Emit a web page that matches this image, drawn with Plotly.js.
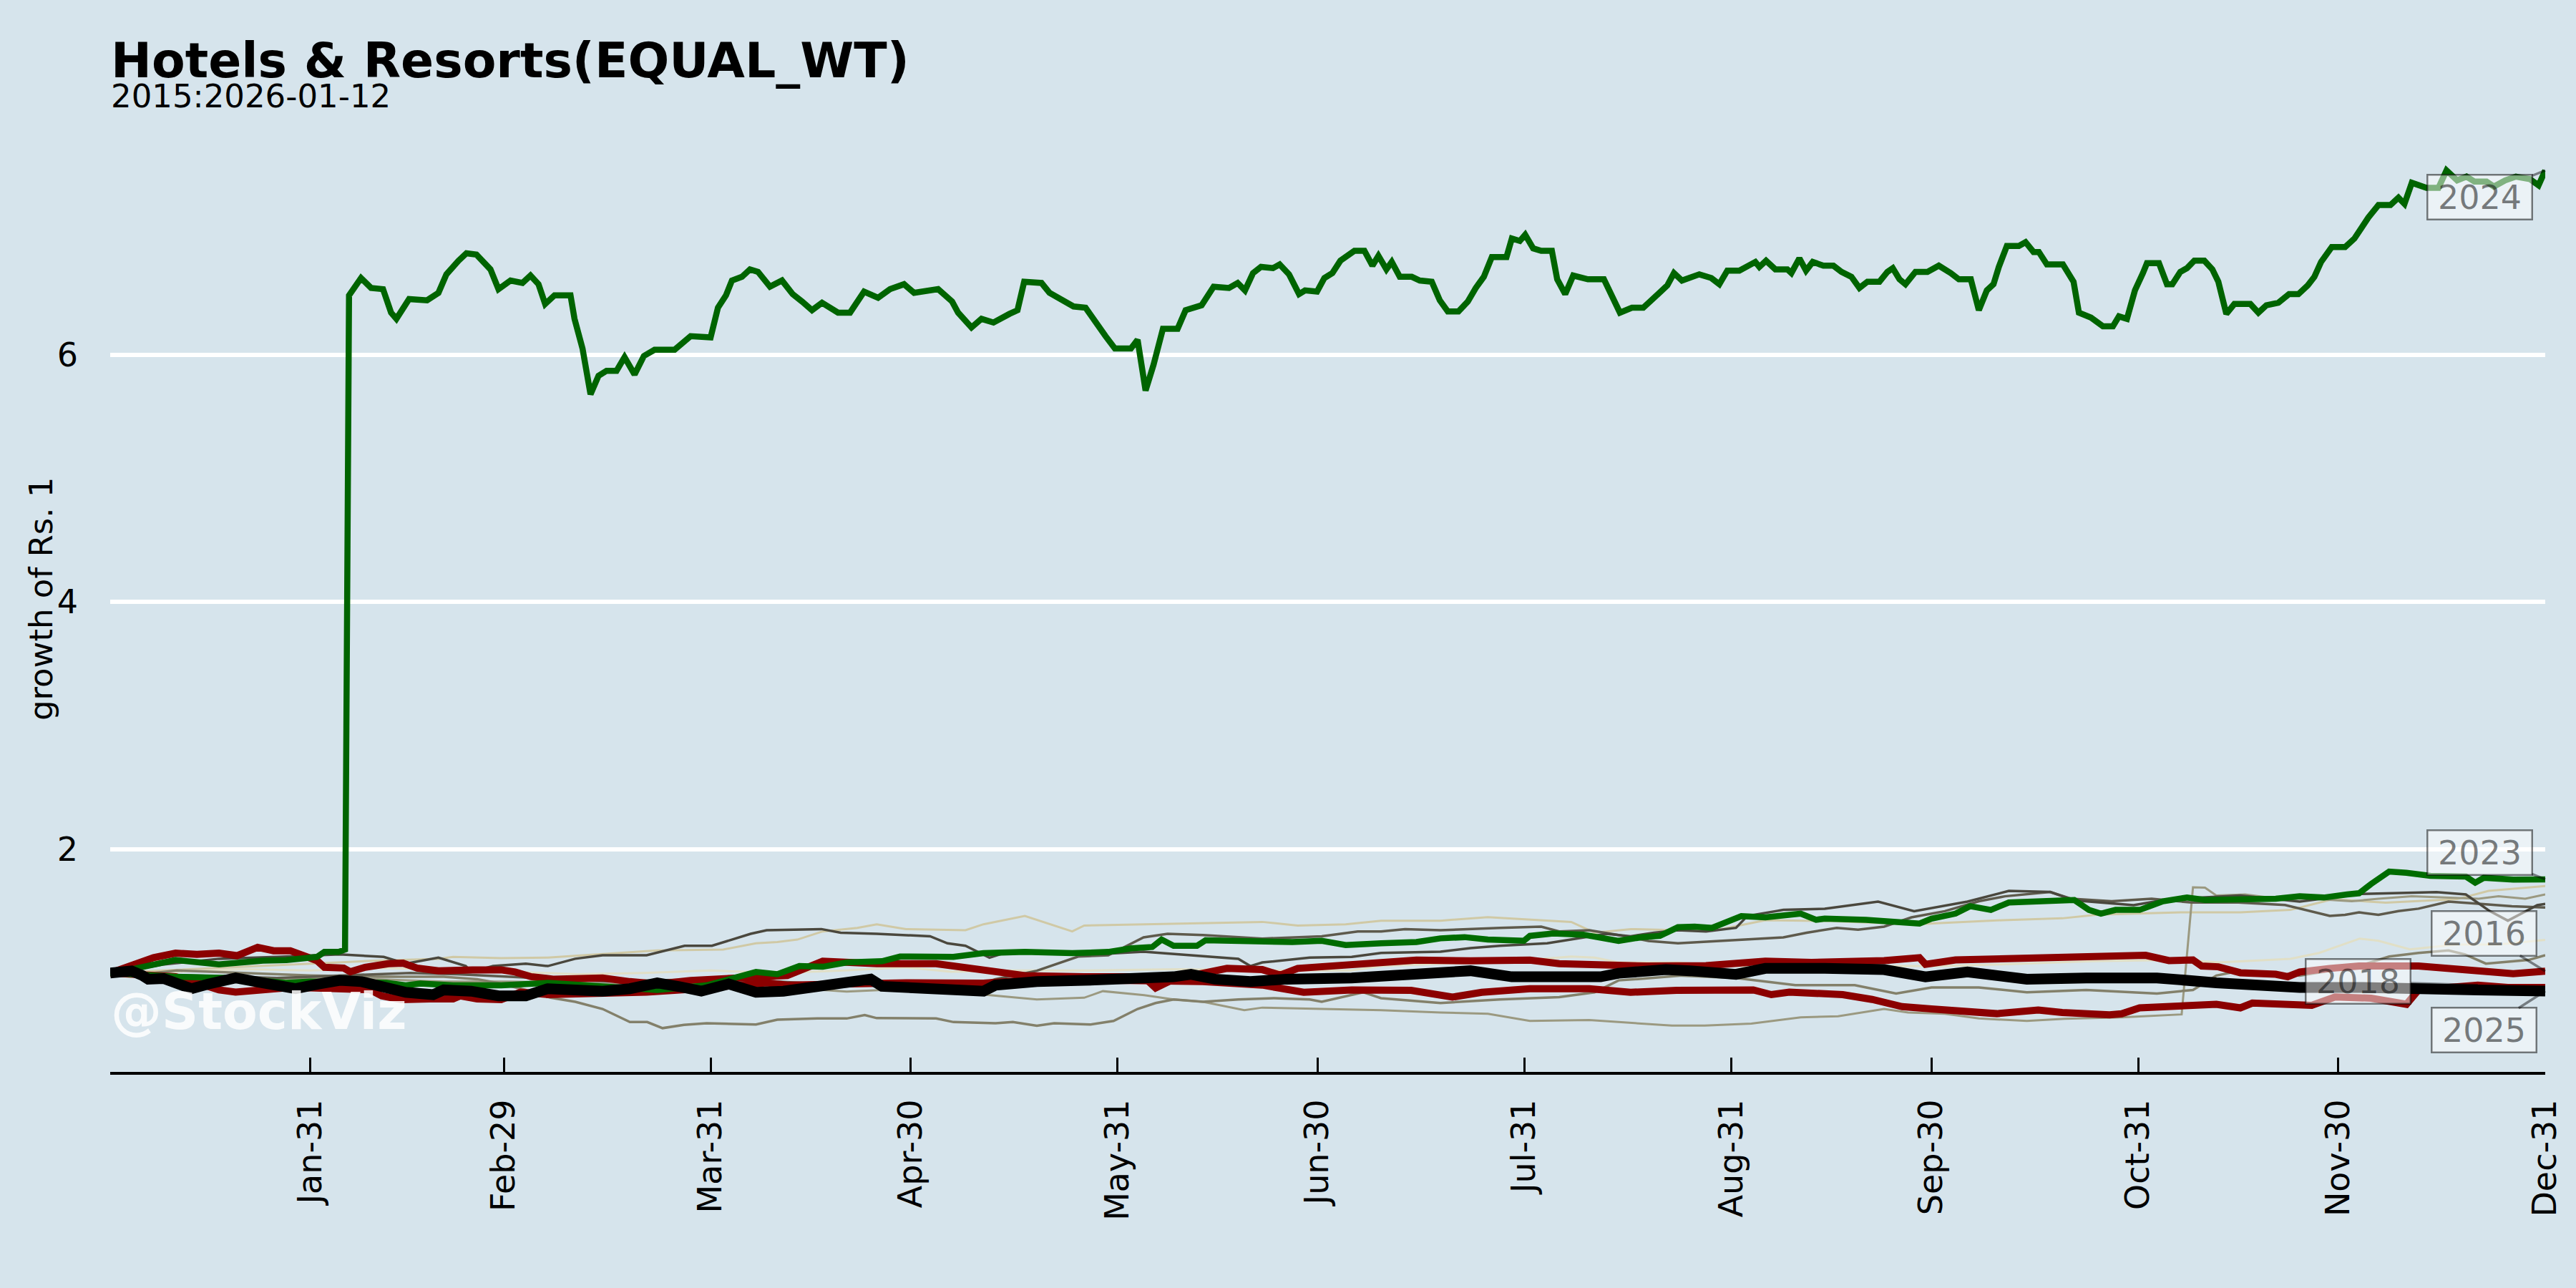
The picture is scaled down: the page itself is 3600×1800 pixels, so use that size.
<!DOCTYPE html>
<html>
<head>
<meta charset="utf-8">
<script src="https://cdn.plot.ly/plotly-3.0.1.min.js"></script>
<style>html,body{margin:0;padding:0;background:#d6e4ec;}#chart{width:3600px;height:1800px;}</style>
</head>
<body>
<div id="chart"></div>
<script>
// ---- data: [day of year (0 = Jan-01), growth of Rs. 1] ----
const y2024 = [[0,1.0],[3.2,1.03],[9.8,1.105],[16.3,1.07],[22.9,1.10],[26.4,1.104],[31,1.13],[32.1,1.17],[34.2,1.17],[35.2,1.19],
[35.8,6.48],[36.7,6.55],[37.6,6.62],[39.1,6.54],[40.9,6.53],[42.1,6.34],[42.9,6.29],[44.8,6.45],[47.5,6.44],[49.2,6.50],[50.4,6.65],[52.2,6.76],[53.4,6.82],[54.9,6.81],[57,6.69],[58.2,6.53],[60,6.60],[61.8,6.58],[63,6.64],[64.2,6.57],[65.2,6.41],[66.6,6.48],[69,6.48],[69.6,6.29],[70.8,6.05],[72,5.68],[73.2,5.83],[74.4,5.87],[75.9,5.87],[77.1,5.98],[78.6,5.84],[80,5.99],[81.6,6.04],[84.6,6.04],[87,6.15],[90,6.14],[91.1,6.38],[92.3,6.48],[93.2,6.60],[94.7,6.63],[95.9,6.69],[97.1,6.67],[98.9,6.55],[100.7,6.60],[102.3,6.49],[103.7,6.43],[105.2,6.36],[106.7,6.42],[109.1,6.34],[110.9,6.34],[113,6.51],[115.1,6.46],[116.9,6.53],[119,6.57],[120.5,6.50],[124.1,6.53],[126.2,6.43],[127.1,6.34],[129.1,6.22],[130.6,6.29],[132.4,6.26],[134.8,6.33],[136,6.36],[137,6.59],[139.6,6.58],[140.8,6.50],[142.6,6.44],[144.4,6.39],[146.2,6.38],[147.4,6.28],[149.2,6.15],[150.6,6.05],[153,6.05],[154,6.12],[155.2,5.71],[156.4,5.92],[157.8,6.21],[160,6.21],[161.2,6.36],[163.6,6.40],[165.4,6.55],[167.7,6.54],[169,6.58],[170.1,6.52],[171.3,6.66],[172.5,6.71],[174.3,6.70],[175.3,6.73],[176.7,6.65],[178.2,6.49],[179.1,6.52],[180.9,6.51],
[182,6.62],[183.2,6.66],[184.4,6.76],[186.5,6.84],[188,6.84],[189.2,6.72],[190.1,6.80],[191.3,6.69],[192.1,6.75],[193.3,6.63],[195.1,6.63],[196.3,6.60],[198.1,6.59],[199.3,6.44],[200.5,6.35],[202.1,6.35],[203.5,6.43],[204.7,6.54],[205.9,6.63],[207.1,6.79],[209.3,6.79],[210.1,6.94],[211.3,6.92],[212.1,6.97],[213.3,6.86],[214.5,6.84],[216.1,6.84],[216.9,6.61],[218.1,6.49],[219.3,6.64],[221.5,6.61],[223.9,6.61],[225.1,6.48],[226.3,6.34],[228.1,6.38],[229.8,6.38],[232.2,6.50],[233.4,6.56],[234.4,6.66],[235.6,6.60],[238.2,6.65],[240,6.62],[241.2,6.57],[242.4,6.68],[244.2,6.68],[245.4,6.72],[246.6,6.75],[247.2,6.71],[248.2,6.76],[249.6,6.69],[251.4,6.69],[252,6.66],[253.2,6.78],[254.2,6.68],[255.2,6.75],[256.8,6.72],[258.3,6.72],[259.5,6.67],[261,6.63],[262.2,6.54],[263.4,6.59],[265.2,6.59],[266.4,6.67],[267.2,6.70],[268.2,6.61],[269.1,6.57],[270.6,6.67],[272.4,6.67],[274.1,6.72],[275.9,6.66],[277.1,6.61],[278.9,6.61],[280.1,6.36],[281.3,6.52],[282.3,6.57],[283.1,6.71],[284.3,6.88],[286.1,6.88],[287.1,6.91],[288.3,6.83],[289.1,6.83],[290.3,6.73],[292.7,6.73],[294.3,6.59],[295.1,6.34],[296.9,6.30],[298.7,6.23],[300.2,6.23],[301.1,6.31],[302.3,6.29],[303.5,6.52],[304.7,6.66],[305.3,6.74],[307.1,6.74],[308.3,6.57],[309.1,6.57],[310.3,6.67],[311.3,6.70],[312.4,6.76],[313.9,6.76],[315.1,6.69],[316,6.59],[317.2,6.33],[318.4,6.41],[320.8,6.41],[322,6.34],[323.2,6.40],[325,6.42],[326.6,6.49],[328,6.49],[329.4,6.56],[330.4,6.63],[331.4,6.75],[333,6.87],[335,6.87],[336.4,6.94],[337.6,7.05],[338.5,7.11],[340,7.21],[341.8,7.21],[343,7.27],[343.9,7.22],[345,7.39],[347.2,7.35],[349,7.35],[350.2,7.49],[351.8,7.41],[353.2,7.44],[354.4,7.40],[356.2,7.40],[357.3,7.36],[359,7.41],[360.6,7.44],[362.7,7.42],[364,7.37],[365,7.49]];

const y2023 = [[0,1.0],[3.2,0.99],[9.8,0.97],[18,0.96],[26.3,0.92],[29.9,0.93],[39.3,0.93],[41.4,0.92],[44.3,0.90],[46.5,0.915],[51.4,0.90],[58.6,0.90],[65.6,0.92],[73.8,0.89],[82,0.863],[89.4,0.90],[94.3,0.98],[96.8,1.008],[100,0.99],[101.5,1.02],[103.3,1.056],[106.8,1.05],[110.4,1.085],[115.7,1.095],[118.4,1.133],[126.4,1.13],[130.9,1.16],[137.1,1.17],[144.2,1.16],[149.6,1.17],[153.1,1.20],[156.2,1.21],[157.6,1.27],[159.4,1.22],[162.9,1.22],[164.2,1.265],[169.1,1.26],[177.2,1.25],[181.6,1.26],[185.2,1.226],[190.5,1.24],[195.8,1.25],[199.4,1.28],[203,1.29],[206.5,1.27],[211.9,1.26],[212.8,1.30],[216.3,1.32],[220.8,1.31],[224.3,1.28],[226.1,1.26],[229.7,1.29],[232.3,1.30],[235,1.37],[237.5,1.375],[240.1,1.365],[244.5,1.46],[248.1,1.45],[253.4,1.48],[255.7,1.43],[257,1.44],[263.2,1.43],[267.7,1.42],[271.2,1.40],[273,1.44],[276.6,1.48],[278.8,1.54],[281.9,1.51],[284.6,1.57],[291.7,1.58],[294.4,1.59],[296.6,1.51],[298.4,1.48],[300.6,1.51],[304.2,1.51],[307.7,1.58],[311.3,1.61],[314,1.59],[319.3,1.60],[324.6,1.60],[328.2,1.62],[331.8,1.61],[335.3,1.635],[337.1,1.645],[338.9,1.72],[341.6,1.82],[344.2,1.81],[347.8,1.786],[353.1,1.78],[354.5,1.73],[355.8,1.77],[360.2,1.755],[365,1.757]];

const y2016 = [[0,1.0],[3.2,1.056],[6.5,1.124],[9.8,1.16],[13,1.15],[16.3,1.16],[19,1.14],[22.1,1.207],[24.5,1.18],[27,1.18],[31,1.10],[32.1,1.046],[35,1.04],[36,1.01],[38.2,1.046],[41.7,1.075],[43.9,1.08],[46,1.04],[49.2,1.017],[54.3,1.025],[58.6,1.025],[60.7,1.008],[63.1,0.97],[66.4,0.95],[73.8,0.96],[77.9,0.93],[82,0.91],[87,0.94],[92.7,0.96],[98.4,0.97],[101.5,0.979],[106.8,1.095],[114.9,1.075],[123.8,1.075],[130.9,1.027],[137.1,0.979],[146,0.969],[154.9,0.969],[156.7,0.879],[159.4,0.95],[163.8,0.998],[167.4,1.037],[172.7,1.027],[175.4,0.983],[178,1.037],[183.4,1.056],[190.5,1.075],[195.8,1.104],[203.9,1.099],[212.8,1.104],[217.2,1.075],[226.1,1.056],[230.3,1.056],[239.2,1.06],[248.1,1.095],[255,1.085],[265.9,1.10],[271.2,1.124],[272.1,1.07],[276.6,1.105],[283.7,1.114],[292.6,1.124],[299.7,1.13],[305.1,1.143],[308.6,1.10],[312.2,1.105],[313.5,1.056],[316,1.05],[319.3,1.002],[324.6,0.99],[326.4,0.97],[328.2,1.008],[332.7,1.037],[337.1,1.056],[346,1.056],[354.9,1.018],[360.2,0.995],[365,1.014]];

const y2018 = [[0,1.0],[4,0.99],[9.8,0.97],[13,0.92],[16.3,0.863],[18.8,0.845],[22.9,0.87],[26.4,0.88],[29.9,0.88],[33.6,0.875],[38.9,0.865],[40.7,0.815],[43.6,0.785],[47.9,0.79],[51.4,0.79],[52.5,0.815],[55,0.79],[58.6,0.785],[61.5,0.845],[65.6,0.825],[73.8,0.83],[80.4,0.845],[86.2,0.865],[90.8,0.89],[98.4,0.92],[101.5,0.902],[110.4,0.911],[119.3,0.921],[130.9,0.917],[137.1,0.94],[146,0.944],[154.9,0.937],[163.8,0.931],[172.7,0.902],[178.9,0.844],[186.1,0.863],[195,0.859],[201.2,0.805],[205.6,0.844],[212.8,0.873],[221.7,0.873],[227.9,0.844],[230.3,0.854],[234.8,0.86],[246.3,0.863],[249,0.825],[251.7,0.845],[259.7,0.825],[264.1,0.786],[268.6,0.728],[273,0.709],[278.4,0.69],[282.8,0.671],[289,0.70],[292.6,0.68],[299.7,0.661],[301.5,0.67],[304.2,0.718],[310.4,0.738],[315.7,0.747],[319.3,0.718],[321.1,0.757],[330,0.738],[333.5,0.806],[338.9,0.796],[344.2,0.747],[346,0.863],[349.6,0.883],[354.9,0.902],[359.4,0.883],[365,0.883]];

const y2025 = [[0,1.0],[3.2,1.017],[4.8,0.98],[5.7,0.95],[8,0.955],[12.2,0.873],[14.7,0.91],[18.8,0.96],[22.9,0.92],[27.8,0.873],[31.1,0.91],[34.4,0.94],[37.7,0.93],[41,0.89],[44.3,0.844],[48.4,0.825],[50,0.863],[54.1,0.853],[58.2,0.815],[62.3,0.815],[65.6,0.873],[69.7,0.863],[73.8,0.853],[77.9,0.873],[82,0.92],[85.3,0.89],[88.6,0.853],[92.7,0.911],[96.8,0.844],[100.9,0.853],[105,0.882],[110,0.911],[112.2,0.94],[114,0.95],[115.7,0.892],[121.1,0.873],[125.5,0.873],[128.2,0.844],[130.9,0.853],[132.7,0.902],[138.9,0.931],[146,0.94],[154.9,0.95],[159.4,0.969],[162,0.989],[165.6,0.95],[170.9,0.931],[176.3,0.95],[186.1,0.96],[190.5,0.979],[197.6,1.008],[203.9,1.018],[210.1,0.969],[217.2,0.969],[223.4,0.969],[226.1,0.998],[233.2,1.027],[236.8,1.018],[241.1,0.989],[243.7,0.989],[248.1,1.037],[252.6,1.047],[257,1.037],[265.9,1.027],[272.1,0.969],[278.4,1.008],[287.3,0.95],[296.2,0.96],[306.8,0.96],[315.7,0.921],[328.2,0.883],[337.1,0.883],[346,0.863],[354.9,0.863],[365,0.854]];

const y2022 = [[0,1.0],[4,1.03],[8.1,1.07],[16.3,1.115],[25,1.13],[34.4,1.15],[41,1.13],[44.3,1.075],[49.2,1.124],[53.3,1.056],[54.1,1.008],[57.4,1.056],[62.3,1.075],[65.6,1.056],[69.7,1.115],[73.8,1.143],[80.4,1.143],[86.1,1.22],[90.2,1.22],[96,1.317],[98.4,1.346],[106.6,1.355],[109.5,1.326],[114.9,1.317],[122.9,1.297],[125.5,1.24],[128.2,1.22],[131.8,1.124],[133.5,1.153],[137.1,1.176],[144.2,1.168],[149.6,1.156],[154.9,1.172],[163.8,1.133],[169.1,1.114],[170.9,1.056],[172.7,1.085],[179.8,1.124],[186.1,1.13],[190.5,1.162],[199.4,1.172],[203.9,1.201],[208.3,1.22],[215.4,1.24],[220.8,1.288],[224.3,1.317],[227.9,1.297],[231.4,1.326],[235,1.346],[239.2,1.336],[243.7,1.365],[245.4,1.461],[250.8,1.51],[257,1.52],[265,1.577],[270.4,1.50],[278.4,1.577],[284.6,1.664],[290.8,1.655],[294.4,1.587],[303.3,1.548],[308.6,1.597],[319.3,1.626],[328.2,1.577],[337.1,1.639],[348.7,1.654],[353.1,1.635],[356.7,1.50],[359.4,1.423],[363.8,1.548],[365,1.558]];

const y2017 = [[0,1.0],[6,0.99],[15,0.98],[25,0.96],[30,0.97],[38,0.985],[45,1.0],[52,0.99],[60,0.97],[68,0.95],[75,0.93],[82,0.94],[90,0.95],[100,0.93],[110,0.90],[120,0.90],[126,0.89],[130.9,0.921],[132.7,0.95],[138.9,1.018],[145.1,1.133],[149.6,1.143],[154.9,1.288],[158.5,1.317],[163.8,1.307],[172.7,1.278],[181.6,1.297],[187,1.336],[190.5,1.336],[194.1,1.355],[199.4,1.346],[208.3,1.365],[214.5,1.375],[217.2,1.336],[221.7,1.346],[226.1,1.307],[230.6,1.259],[235,1.24],[241.1,1.259],[245,1.27],[250.8,1.288],[254.3,1.326],[258.8,1.365],[262,1.35],[265.9,1.375],[270,1.45],[275,1.5],[280.1,1.58],[284,1.62],[290.8,1.655],[294,1.6],[300,1.58],[306,1.6],[312,1.57],[319,1.57],[326,1.55],[332.7,1.462],[335,1.47],[337.1,1.49],[340,1.47],[343,1.50],[346,1.52],[350.5,1.577],[355,1.56],[360,1.54],[365,1.529]];

const y2021 = [[0,1.0],[8,1.02],[16,1.04],[24,1.06],[29.5,1.075],[34.4,1.09],[40,1.10],[49.2,1.115],[51.4,1.13],[58.6,1.12],[65.6,1.124],[73.8,1.153],[82,1.182],[91.9,1.19],[96.8,1.24],[100,1.25],[103,1.27],[106.8,1.336],[112,1.365],[114.9,1.394],[119.3,1.355],[128.2,1.346],[130.9,1.394],[137.1,1.461],[139.8,1.413],[144.2,1.336],[146,1.384],[154.9,1.394],[163.8,1.403],[172.7,1.413],[178,1.384],[185.2,1.394],[190.5,1.423],[199.4,1.423],[206.5,1.452],[213.6,1.432],[219,1.413],[222.5,1.326],[227.9,1.355],[235,1.346],[241.1,1.35],[248.1,1.427],[258,1.42],[270.4,1.394],[283.7,1.427],[292.6,1.442],[297.9,1.471],[310.4,1.49],[319.3,1.49],[326.8,1.51],[333.2,1.597],[341.1,1.568],[351.8,1.597],[356.5,1.664],[365,1.703]];

const y2019 = [[0,1.0],[10,1.01],[20,1.03],[30,1.02],[40,1.04],[50,1.03],[60,1.01],[70,0.99],[80,1.0],[90,1.02],[100,1.0],[110,1.02],[119.3,1.046],[126,1.01],[135,1.02],[146,1.02],[160,1.03],[175,1.02],[186,1.02],[190.5,1.056],[199.4,1.075],[208.3,1.085],[219,1.133],[222.5,1.124],[226.1,1.085],[235,1.085],[241,1.06],[250,1.05],[257,1.056],[274.8,1.056],[287.3,1.076],[297,1.095],[310.4,1.105],[316,1.085],[326.8,1.114],[331.1,1.162],[337.2,1.278],[340,1.26],[344.7,1.191],[351.8,1.23],[358,1.23],[365,1.268]];

const y2020 = [[0,1.0],[5,0.99],[10,1.02],[20,1.0],[30,0.98],[40,0.97],[50,0.97],[55,0.95],[58,0.92],[62.3,0.863],[66,0.8],[69.7,0.767],[73.8,0.709],[77.9,0.603],[80.5,0.603],[82.8,0.554],[86,0.58],[89.4,0.593],[96.8,0.583],[100,0.622],[106,0.632],[110.4,0.632],[113.1,0.66],[114.9,0.635],[123.8,0.632],[126.4,0.603],[132.7,0.593],[135.3,0.603],[138.9,0.574],[141.5,0.593],[146.9,0.583],[150.4,0.612],[154,0.709],[156.7,0.757],[159.4,0.786],[163.8,0.767],[169.1,0.786],[174.5,0.796],[179.8,0.786],[181.6,0.767],[187.8,0.844],[190.5,0.796],[199.4,0.757],[208.3,0.786],[217.2,0.805],[222.5,0.844],[226.1,0.94],[230,0.955],[235.6,0.979],[243.7,0.96],[252.6,0.902],[261.5,0.902],[267.7,0.834],[273,0.883],[280.1,0.883],[287.3,0.844],[296.2,0.863],[306.8,0.834],[312.2,0.863],[315.7,0.979],[319.3,1.018],[328.2,0.979],[337.1,1.056],[341.6,1.133],[346,1.162],[350.5,1.182],[353,1.15],[356.1,1.076],[362.5,1.105],[365,1.143]];

const y2015 = [[0,1.0],[10,0.97],[20,0.95],[30,0.96],[40,0.95],[50,0.93],[60,0.93],[70,0.92],[80,0.90],[90,0.90],[101.5,0.89],[106,0.865],[110.4,0.85],[115,0.86],[123,0.88],[131,0.825],[138.9,0.786],[146,0.80],[148.8,0.853],[155,0.82],[159.4,0.786],[163.8,0.767],[170,0.699],[172.7,0.72],[181.6,0.71],[190.5,0.699],[199.4,0.68],[206.5,0.67],[212.8,0.612],[221.7,0.62],[226.1,0.603],[234.1,0.574],[239,0.574],[246,0.59],[253.4,0.641],[259,0.65],[265.9,0.709],[269.5,0.68],[275,0.67],[280.1,0.632],[287.3,0.612],[293,0.63],[301.5,0.641],[308.6,0.661],[310.5,0.665],[312.2,1.693],[314,1.69],[315.7,1.626],[320,1.635],[325,1.60],[330,1.60],[336,1.58],[340,1.60],[345,1.62],[350,1.61],[355,1.60],[358,1.62],[362,1.60],[365,1.635]];

const monthEnds = ['2024-01-31','2024-02-29','2024-03-31','2024-04-30','2024-05-31','2024-06-30','2024-07-31','2024-08-31','2024-09-30','2024-10-31','2024-11-30','2024-12-31'];
const monthLabels = ['Jan-31','Feb-29','Mar-31','Apr-30','May-31','Jun-30','Jul-31','Aug-31','Sep-30','Oct-31','Nov-30','Dec-31'];
const yTicks = [2, 4, 6];

// ---- helpers ----
const BASE = Date.UTC(2024, 0, 1);
function dayToDate(d) {
  return new Date(BASE + d * 86400000).toISOString().replace('T', ' ').replace('Z', '');
}
function mk(pairs, color, width, name) {
  return {
    type: 'scatter', mode: 'lines', name: name,
    x: pairs.map(p => dayToDate(p[0])), y: pairs.map(p => p[1]),
    line: {color: color, width: width, shape: 'linear'},
    hoverinfo: 'skip', showlegend: false
  };
}

const traces = [
  mk(y2019, '#e1dfc6', 3, '2019'),
  mk(y2021, '#d0c9a5', 3, '2021'),
  mk(y2015, '#9b9980', 3, '2015'),
  mk(y2020, '#83806a', 3.5, '2020'),
  mk(y2017, '#5e5a4c', 3.5, '2017'),
  mk(y2022, '#4a473d', 3.5, '2022'),
  mk(y2016, '#8b0000', 10, '2016'),
  mk(y2018, '#8b0000', 10, '2018'),
  mk(y2023, '#006c00', 8.5, '2023'),
  mk(y2024, '#006400', 8.5, '2024'),
  mk(y2025, '#000000', 15, '2025')
];

const last = a => a[a.length - 1];
const near = (a, d) => a.reduce((b, p) => Math.abs(p[0] - d) < Math.abs(b[0] - d) ? p : b, a[0]);

function yearLabel(txt, pt, ax, ay) {
  return {
    text: txt, x: dayToDate(pt[0]), y: pt[1], xref: 'x', yref: 'y',
    showarrow: true, arrowhead: 0, arrowwidth: 3.5, arrowcolor: 'rgba(0,0,0,0.45)',
    ax: ax, ay: ay, standoff: 0,
    font: {family: 'DejaVu Sans', size: 46, color: 'rgba(0,0,0,0.5)'},
    bgcolor: 'rgba(255,255,255,0.5)', bordercolor: 'rgba(0,0,0,0.5)', borderwidth: 2.5,
    borderpad: 2, width: 140, height: 56
  };
}

const FONT = 'DejaVu Sans';
const layout = {
  width: 3600, height: 1800,
  paper_bgcolor: '#d6e4ec', plot_bgcolor: '#d6e4ec',
  margin: {l: 154, r: 43, t: 176, b: 302},
  showlegend: false,
  font: {family: FONT, size: 46, color: '#000'},
  xaxis: {
    type: 'date', range: ['2024-01-01', '2024-12-31'],
    tickvals: monthEnds, ticktext: monthLabels, tickangle: -90,
    ticks: 'inside', ticklen: 20, tickwidth: 3, tickcolor: '#000',
    ticklabelstandoff: 16,
    showline: true, linecolor: '#000', linewidth: 4,
    showgrid: false, zeroline: false,
    tickfont: {family: FONT, size: 46, color: '#000'}
  },
  yaxis: {
    range: [0.2, 7.85], tickvals: yTicks, ticktext: yTicks.map(String),
    ticks: '', ticklabelstandoff: 44,
    showline: false, zeroline: false,
    showgrid: true, gridcolor: '#ffffff', gridwidth: 6,
    tickfont: {family: FONT, size: 46, color: '#000'},
    title: {text: ''}
  },
  annotations: [
    {text: '<b>Hotels & Resorts(EQUAL_WT)</b>', xref: 'paper', yref: 'paper', x: 0, y: 1.0998,
     xanchor: 'left', yanchor: 'top', showarrow: false, borderpad: 0,
     font: {family: FONT, size: 68, color: '#000'}},
    {text: '2015:2026-01-12', xref: 'paper', yref: 'paper', x: 0, y: 1.0525,
     xanchor: 'left', yanchor: 'top', showarrow: false, borderpad: 0,
     font: {family: FONT, size: 45, color: '#000'}},
    {text: 'growth of Rs. 1', xref: 'paper', yref: 'paper', x: -0.0285, y: 0.5,
     xanchor: 'center', yanchor: 'middle', textangle: -90, showarrow: false, borderpad: 0,
     font: {family: FONT, size: 45, color: '#000'}},
    {text: '<b>@StockViz</b>', xref: 'paper', yref: 'paper', x: 0, y: 0.0961,
     xanchor: 'left', yanchor: 'top', showarrow: false, borderpad: 0,
     font: {family: FONT, size: 71, color: 'rgba(255,255,255,0.85)'}},
    yearLabel('2024', last(y2024), -92, 37),
    yearLabel('2023', last(y2023), -92, -37),
    yearLabel('2016', last(y2016), -86, -53),
    yearLabel('2018', near(y2018, 354.9), -167, -5),
    yearLabel('2025', last(y2025), -86, 55)
  ]
};

Plotly.newPlot('chart', traces, layout, {displayModeBar: false, staticPlot: true});
</script>
</body>
</html>
